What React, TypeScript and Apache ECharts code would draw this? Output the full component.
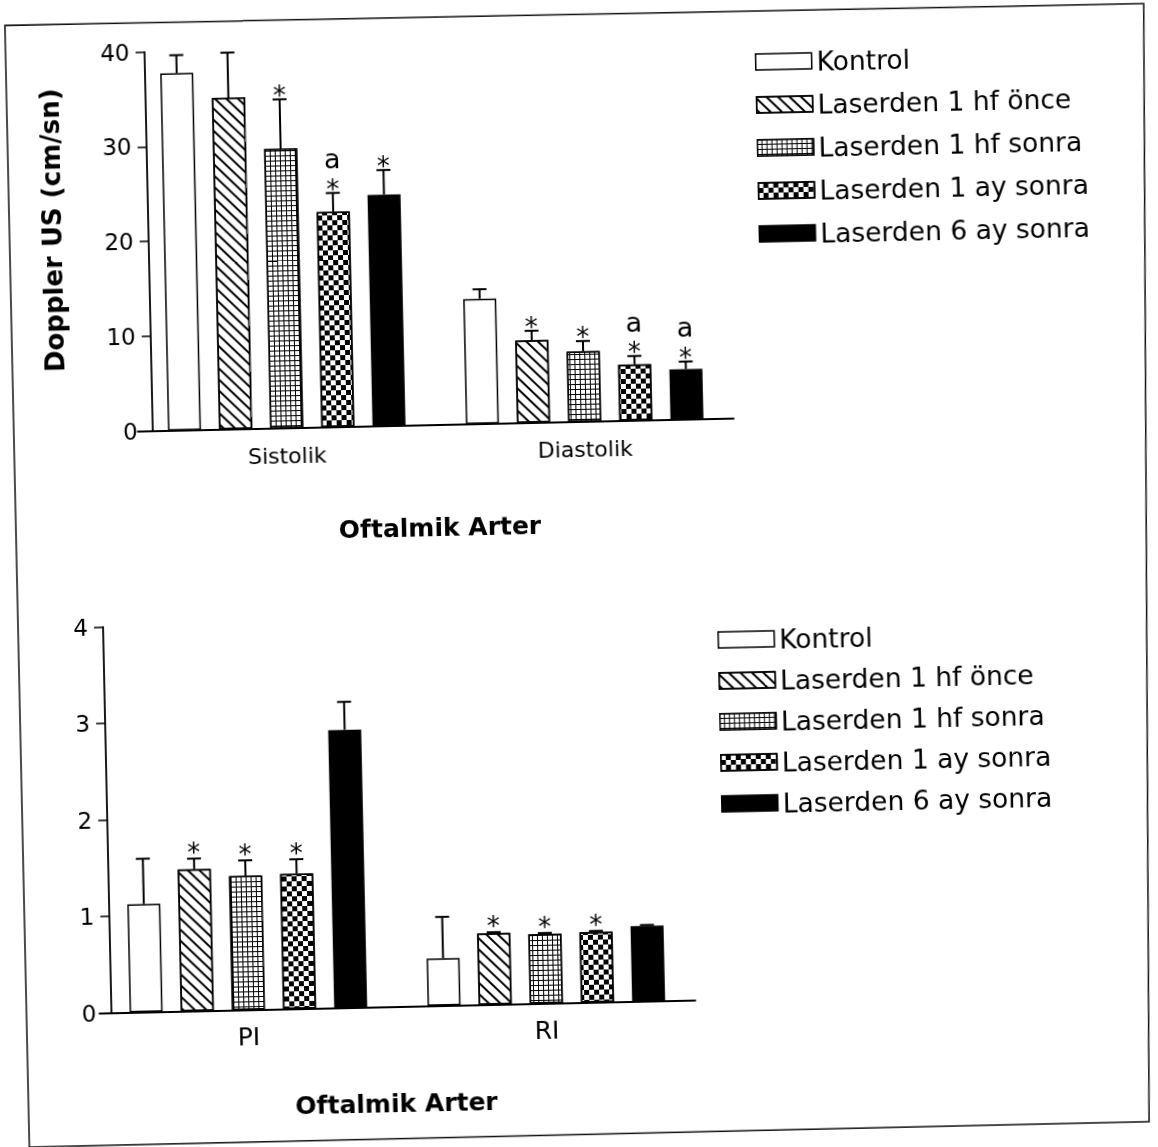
import React, { useEffect, useRef } from 'react';
import * as echarts from 'echarts';

// ---- data ----
const groups = [
  'Kontrol',
  'Laserden 1 hf önce',
  'Laserden 1 hf sonra',
  'Laserden 1 ay sonra',
  'Laserden 6 ay sonra',
];
const topCategories = ['Sistolik', 'Diastolik'];
const bottomCategories = ['PI', 'RI'];

// values per group: [first category, second category]
const topValues = [
  [37.7, 13.2],
  [35.0, 8.7],
  [29.5, 7.4],
  [22.7, 5.9],
  [24.4, 5.3],
];
const topErrors = [
  [1.9, 1.0],
  [4.75, 1.0],
  [5.2, 1.1],
  [2.0, 0.9],
  [2.6, 0.8],
];
const topMarks = [
  ['', ''],
  ['', '*'],
  ['*', '*'],
  ['a*', 'a*'],
  ['*', 'a*'],
];

const bottomValues = [
  [1.12, 0.49],
  [1.47, 0.74],
  [1.39, 0.72],
  [1.4, 0.73],
  [2.88, 0.78],
];
const bottomErrors = [
  [0.47, 0.43],
  [0.11, 0.01],
  [0.16, 0.01],
  [0.15, 0.01],
  [0.29, 0.01],
];
const bottomMarks = [
  ['', ''],
  ['*', '*'],
  ['*', '*'],
  ['*', '*'],
  ['', ''],
];

const topAxis = { min: 0, max: 40, interval: 10 };
const bottomAxis = { min: 0, max: 4, interval: 1 };

const yAxisTitle = 'Doppler US (cm/sn)';
const chartTitle = 'Oftalmik Arter';

// ---- styles ----
const FONT = 'DejaVu Sans';
const BAR_W = 33;
const BAR_GAP = 0.55;
const STEP = BAR_W * (1 + BAR_GAP);
const CAP = 14;

const fills: any[] = [
  { color: '#ffffff' },
  {
    color: '#ffffff',
    decal: {
      symbol: 'rect',
      symbolSize: 1,
      color: '#000',
      dashArrayX: [1, 0],
      dashArrayY: [1.6, 5.4],
      rotation: Math.PI / 4,
    },
  },
  {
    color: '#000000',
    decal: {
      symbol: 'rect',
      symbolSize: 1,
      color: '#fff',
      dashArrayX: [3.2, 1],
      dashArrayY: [3.2, 1],
    },
  },
  {
    color: '#ffffff',
    decal: {
      symbol: 'rect',
      symbolSize: 1,
      color: '#000',
      dashArrayX: [
        [5, 5],
        [0, 5, 5, 0],
      ],
      dashArrayY: [5, 0],
    },
  },
  { color: '#000000' },
];

function barSeries(gridIdx: number, values: number[][]) {
  return groups.map((name, i) => ({
    type: 'bar',
    name,
    xAxisIndex: gridIdx,
    yAxisIndex: gridIdx,
    data: values[i],
    barWidth: BAR_W,
    barGap: BAR_GAP * 100 + '%',
    itemStyle: {
      color: fills[i].color,
      borderColor: '#000',
      borderWidth: 1.5,
      ...(fills[i].decal ? { decal: fills[i].decal } : {}),
    },
    z: 2,
  }));
}

function errSeries(
  gridIdx: number,
  values: number[][],
  errors: number[][],
  marks: string[][],
  starGap: number
) {
  return groups.map((name, i) => ({
    type: 'custom',
    name: 'err-' + gridIdx + '-' + i,
    xAxisIndex: gridIdx,
    yAxisIndex: gridIdx,
    clip: false,
    silent: true,
    z: 5,
    data: values[i].map((v, c) => [c, v, errors[i][c]]),
    renderItem: (params: any, api: any) => {
      const c = api.value(0);
      const v = api.value(1);
      const e = api.value(2);
      const base = api.coord([c, v]);
      const top = api.coord([c, v + e]);
      const x = base[0] + (i - 2) * STEP;
      const children: any[] = [];
      if (e > 0) {
        children.push({
          type: 'line',
          shape: { x1: x, y1: base[1], x2: x, y2: top[1] },
          style: { stroke: '#000', lineWidth: 2 },
        });
        children.push({
          type: 'line',
          shape: { x1: x - CAP / 2, y1: top[1], x2: x + CAP / 2, y2: top[1] },
          style: { stroke: '#000', lineWidth: 2 },
        });
      }
      const mk = marks[i][params.dataIndex] || '';
      if (mk.indexOf('*') >= 0) {
        children.push({
          type: 'text',
          x,
          y: top[1] - starGap + 6,
          style: {
            text: '*',
            fontSize: 26,
            fontFamily: FONT,
            fill: '#000',
            align: 'center',
            verticalAlign: 'middle',
            textAlign: 'center',
            textVerticalAlign: 'middle',
          },
        });
      }
      if (mk.indexOf('a') >= 0) {
        children.push({
          type: 'text',
          x,
          y: top[1] - 34,
          style: {
            text: 'a',
            fontSize: 27,
            fontFamily: FONT,
            fill: '#000',
            align: 'center',
            verticalAlign: 'middle',
            textAlign: 'center',
            textVerticalAlign: 'middle',
          },
        });
      }
      return { type: 'group', children };
    },
  }));
}

function legendOpt(left: number, top: number, gap: number) {
  return {
    data: groups,
    orient: 'vertical',
    left,
    top,
    padding: 0,
    itemWidth: 56,
    itemHeight: 16,
    itemGap: gap,
    icon: 'rect',
    selectedMode: false,
    textStyle: { fontFamily: FONT, fontSize: 26.5, color: '#000', lineHeight: 30 },
    itemStyle: { borderColor: '#000', borderWidth: 1.5 },
  };
}

function yAxisOpt(gridIdx: number, ax: any, offset: number) {
  return {
    gridIndex: gridIdx,
    type: 'value',
    min: ax.min,
    max: ax.max,
    interval: ax.interval,
    offset,
    axisLine: { show: true, lineStyle: { color: '#000', width: 1.8 } },
    axisTick: { show: true, length: 9, lineStyle: { color: '#000', width: 1.5 } },
    axisLabel: { color: '#000', fontFamily: FONT, fontSize: 23, margin: 15 },
    splitLine: { show: false },
  };
}

function xAxisOpt(gridIdx: number, cats: string[], fontSize: number, margin: number) {
  return {
    gridIndex: gridIdx,
    type: 'category',
    data: cats,
    axisLine: { show: true, lineStyle: { color: '#000', width: 1.8 } },
    axisTick: { show: false },
    axisLabel: { color: '#000', fontFamily: FONT, fontSize, margin },
    splitLine: { show: false },
  };
}

const titleStyle = {
  fill: '#000',
  font: 'bold 25px "DejaVu Sans"',
  fontFamily: FONT,
  fontWeight: 'bold',
  fontSize: 25,
  align: 'center',
  verticalAlign: 'middle',
  textAlign: 'center',
  textVerticalAlign: 'middle',
};

export default function App() {
  const ref = useRef<HTMLDivElement>(null);
  useEffect(() => {
    if (!ref.current) return;
    const chart = echarts.init(ref.current, null, { renderer: 'svg' });
    chart.setOption({
      animation: false,
      backgroundColor: '#ffffff',
      grid: [
        { left: 141, width: 596, top: 42.7, height: 379, containLabel: false },
        { left: 90, width: 596, top: 616.6, height: 386, containLabel: false },
      ],
      xAxis: [xAxisOpt(0, topCategories, 22, 17), xAxisOpt(1, bottomCategories, 25, 14.5)],
      yAxis: [yAxisOpt(0, topAxis, -15), yAxisOpt(1, bottomAxis, -12)],
      legend: [legendOpt(766, 51, 13), legendOpt(716, 628, 11)],
      series: [
        ...barSeries(0, topValues),
        ...barSeries(1, bottomValues),
        ...errSeries(0, topValues, topErrors, topMarks, 10),
        ...errSeries(1, bottomValues, bottomErrors, bottomMarks, 12.5),
      ],
      graphic: [
        {
          type: 'polygon',
          silent: true,
          shape: {
            points: [
              [17, 13],
              [1156, 16],
              [1137, 1134],
              [17, 1135],
            ],
          },
          style: { fill: 'none', stroke: '#111', lineWidth: 1.5 },
        },
        {
          type: 'text',
          x: 60,
          y: 219,
          rotation: Math.PI / 2,
          style: {
            ...titleStyle,
            font: 'bold 26px "DejaVu Sans"',
            fontSize: 26,
            text: yAxisTitle,
          },
        },
        { type: 'text', x: 441, y: 524, style: { ...titleStyle, text: chartTitle } },
        { type: 'text', x: 385, y: 1099, style: { ...titleStyle, text: chartTitle } },
      ],
    });
    return () => chart.dispose();
  }, []);
  return (
    <div
      ref={ref}
      style={{
        position: 'fixed',
        left: 0,
        top: 0,
        width: 1158,
        height: 1147,
        transform: 'rotate(-1.25deg)',
        transformOrigin: '50% 50%',
        background: '#fff',
      }}
    />
  );
}
